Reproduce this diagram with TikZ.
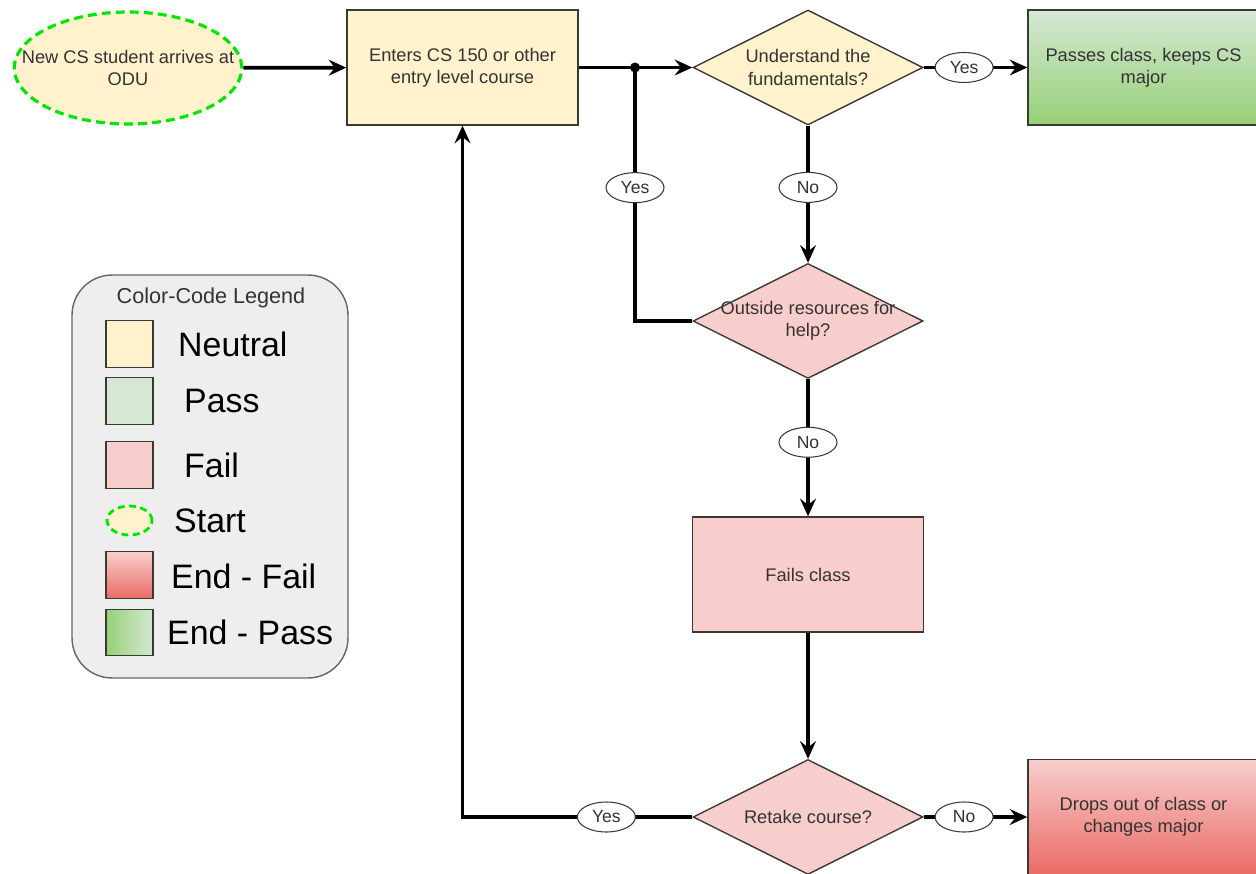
\documentclass[tikz,border=0pt]{standalone}
\usepackage{fontspec}
\setmainfont{Liberation Sans}
\usepackage{tikz}
\usetikzlibrary{shapes.geometric,arrows.meta}

\definecolor{neutralfill}{HTML}{FFF2CC}
\definecolor{passfill}{HTML}{D5E8D4}
\definecolor{passdark}{HTML}{97D077}
\definecolor{failfill}{HTML}{F8CECC}
\definecolor{faildark}{HTML}{EA6B66}
\definecolor{startline}{HTML}{00E600}
\definecolor{boxline}{HTML}{3A3A34}
\definecolor{textgray}{HTML}{333333}
\definecolor{legendfill}{HTML}{EEEEEE}
\definecolor{legendline}{HTML}{666666}

\tikzset{
  every node/.style={font=\fontsize{10.4}{12.6}\selectfont, text=textgray},
  box/.style={draw=boxline, line width=0.8pt, minimum width=4.62cm,
    minimum height=2.3cm, align=center},
  decision/.style={diamond, draw=boxline, line width=0.8pt, minimum width=4.6cm,
    minimum height=2.3cm, inner sep=0pt},
  answer/.style={ellipse, draw=boxline, fill=white, line width=0.6pt,
    minimum width=1.16cm, minimum height=0.6cm, inner sep=0pt,
    font=\fontsize{10}{11}\selectfont},
  flow/.style={line width=2.1pt, -{Stealth[length=10pt,width=9pt,inset=3.5pt]}},
  swatch/.style={draw=boxline, line width=0.6pt, minimum width=0.94cm,
    minimum height=0.93cm, inner sep=0pt},
  legendtext/.style={anchor=west, font=\fontsize{19.3}{22}\selectfont, text=black},
}

\begin{document}
\begin{tikzpicture}[x=0.02cm, y=-0.02cm]
\useasboundingbox (0,0) rectangle (1256,874);

% flow chart
\node[ellipse, draw=startline, line width=1.8pt, dash pattern=on 5pt off 3pt,
  fill=neutralfill, minimum width=4.55cm, minimum height=2.24cm, inner sep=0pt,
  label={[align=center]center:New CS student arrives at\\ODU}] (start) at (128,68) {};
\node[box, fill=neutralfill] (enter) at (462.5,67.5) {Enters CS 150 or other\\entry level course};
\node[decision, fill=neutralfill, label={[align=center]center:Understand the\\fundamentals?}] (under) at (808,67.5) {};
\node[box, top color=passfill, bottom color=passdark] (passes) at (1143.5,67.5) {Passes class, keeps CS\\major};
\node[decision, fill=failfill, label={[align=center]center:Outside resources for\\help?}] (outside) at (808,321) {};
\node[box, fill=failfill] (fails) at (808,574.5) {Fails class};
\node[decision, fill=failfill, label={center:Retake course?}] (retake) at (808,817) {};
\node[box, top color=failfill, bottom color=faildark] (drops) at (1143.5,817) {Drops out of class or\\changes major};

\coordinate (junc) at (635,67.5);

% connectors
\draw[flow] (start) -- (enter);
\draw[flow] (enter) -- (under);
\fill (junc) circle [radius=5];
\draw[flow] (under) -- node[answer, pos=0.39] {Yes} (passes);
\draw[flow] (under) -- node[answer, pos=0.45] {No} (outside);
\draw[line width=2.1pt] (outside.west) -| node[answer, pos=0.763] {Yes} (junc);
\draw[flow] (outside) -- node[answer, pos=0.46] {No} (fails);
\draw[flow] (fails) -- (retake);
\draw[flow] (retake.west) -| node[answer, pos=0.187] {Yes} (enter.south);
\draw[flow] (retake) -- node[answer, pos=0.39] {No} (drops);

% legend
\node[draw=legendline, fill=legendfill, line width=0.8pt, rounded corners=0.8cm,
  minimum width=5.52cm, minimum height=8.06cm] (legend) at (210,476.5) {};
\node[font=\fontsize{12.3}{14}\selectfont] (legendtitle) at (211,298) {Color-Code Legend};
\node[swatch, fill=neutralfill] (swneutral) at (129.5,344) {};
\node[swatch, fill=passfill] (swpass) at (129.5,401) {};
\node[swatch, fill=failfill] (swfail) at (129.5,465) {};
\node[ellipse, draw=startline, line width=1.6pt, dash pattern=on 4pt off 2.5pt,
  fill=neutralfill, minimum width=0.9cm, minimum height=0.58cm, inner sep=0pt] (swstart) at (129.5,520.5) {};
\node[swatch, top color=failfill, bottom color=faildark] (swendfail) at (129.5,575) {};
\node[swatch, left color=passdark, right color=passfill] (swendpass) at (129.5,632.5) {};
\node[legendtext] (txneutral) at (172,344) {Neutral};
\node[legendtext] (txpass) at (178,401) {Pass};
\node[legendtext] (txfail) at (178,465) {Fail};
\node[legendtext] (txstart) at (168,520.5) {Start};
\node[legendtext] (txendfail) at (165,576) {End - Fail};
\node[legendtext] (txendpass) at (161,632.5) {End - Pass};
\end{tikzpicture}
\end{document}
